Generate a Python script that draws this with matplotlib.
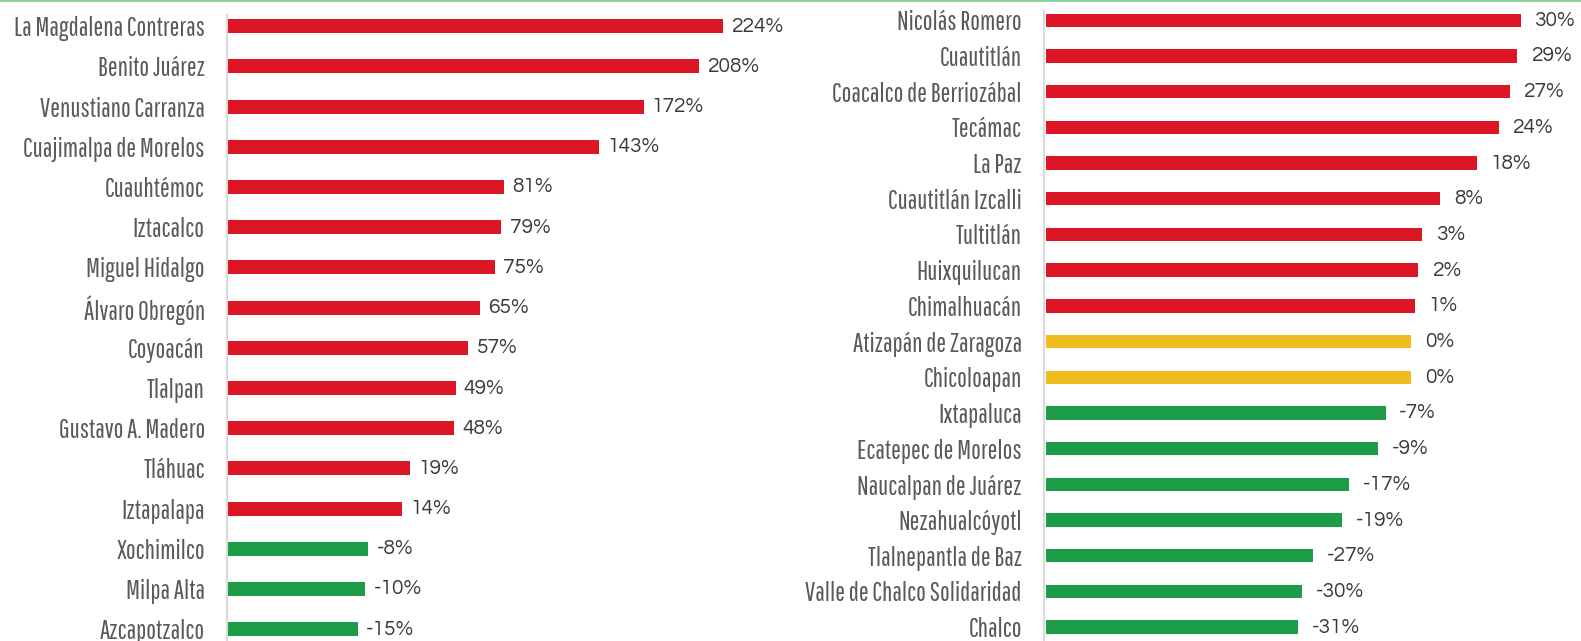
import matplotlib
matplotlib.use("Agg")
import matplotlib.pyplot as plt
from matplotlib.lines import Line2D

# ---------------- DATA ----------------
left_names = ["La Magdalena Contreras", "Benito Juárez", "Venustiano Carranza",
              "Cuajimalpa de Morelos", "Cuauhtémoc", "Iztacalco", "Miguel Hidalgo",
              "Álvaro Obregón", "Coyoacán", "Tlalpan", "Gustavo A. Madero",
              "Tláhuac", "Iztapalapa", "Xochimilco", "Milpa Alta", "Azcapotzalco"]
left_values = [224, 208, 172, 143, 81, 79, 75, 65, 57, 49, 48, 19, 14, -8, -10, -15]

right_names = ["Nicolás Romero", "Cuautitlán", "Coacalco de Berriozábal", "Tecámac",
               "La Paz", "Cuautitlán Izcalli", "Tultitlán", "Huixquilucan",
               "Chimalhuacán", "Atizapán de Zaragoza", "Chicoloapan", "Ixtapaluca",
               "Ecatepec de Morelos", "Naucalpan de Juárez", "Nezahualcóyotl",
               "Tlalnepantla de Baz", "Valle de Chalco Solidaridad", "Chalco"]
right_values = [30, 29, 27, 24, 18, 8, 3, 2, 1, 0, 0, -7, -9, -17, -19, -27, -30, -31]

RED = "#DD1625"
GREEN = "#1C9C46"
YELLOW = "#EFBC20"
AXIS_MIN = -100  # bars start at the axis crossing (-100%)
NAME_FONT = ["Pathway Gothic One", "DejaVu Sans"]
VALUE_FONT = ["Questrial", "Lato", "DejaVu Sans"]

W, H = 1581, 641
fig = plt.figure(figsize=(W / 100, H / 100), dpi=100)


def color_for(v):
    if v > 0:
        return RED
    if v < 0:
        return GREEN
    return YELLOW


def panel(px_left, px_right, px_top, px_bottom, xmax, names, values,
          bar_h, spine_top, pad_pts):
    ax = fig.add_axes([px_left / W, (H - px_bottom) / H,
                       (px_right - px_left) / W, (px_bottom - px_top) / H])
    n = len(values)
    ys = list(range(n))
    widths = [v - AXIS_MIN for v in values]
    ax.barh(ys, widths, left=AXIS_MIN + 0.6, height=bar_h,
            color=[color_for(v) for v in values])
    ax.set_xlim(AXIS_MIN, xmax)
    ax.set_ylim(n - 0.5, -0.5)
    for y, v in zip(ys, values):
        ax.annotate(f"{v}%", xy=(v, y), xytext=(pad_pts, 0), textcoords="offset points",
                    ha="left", va="center", fontsize=15, color="#3a3a3a",
                    family=VALUE_FONT)
    ax.set_yticks(ys)
    ax.set_yticklabels(names, fontsize=18.7, color="#595959", family=NAME_FONT)
    ax.tick_params(axis="y", length=0, pad=16)
    ax.set_xticks([])
    for s in ["top", "right", "bottom"]:
        ax.spines[s].set_visible(False)
    ax.spines["left"].set_color("#D9D9D9")
    ax.spines["left"].set_linewidth(1.5)
    ax.spines["left"].set_bounds(n - 0.5, spine_top)
    return ax


# left panel (CDMX)
panel(227, 800, 6.1, 649.3, 275, left_names, left_values, 0.35, -0.28, 6.5)
# right panel (Edomex)
panel(1044, 1575, 2.35, 645, 45.5, right_names, right_values, 0.375, -0.25, 11.5)

fig.add_artist(Line2D([0, 1], [0.999, 0.999], color="#8FD19E", lw=1.5,
                      transform=fig.transFigure))

fig.savefig("out.png", dpi=100, facecolor="white")
